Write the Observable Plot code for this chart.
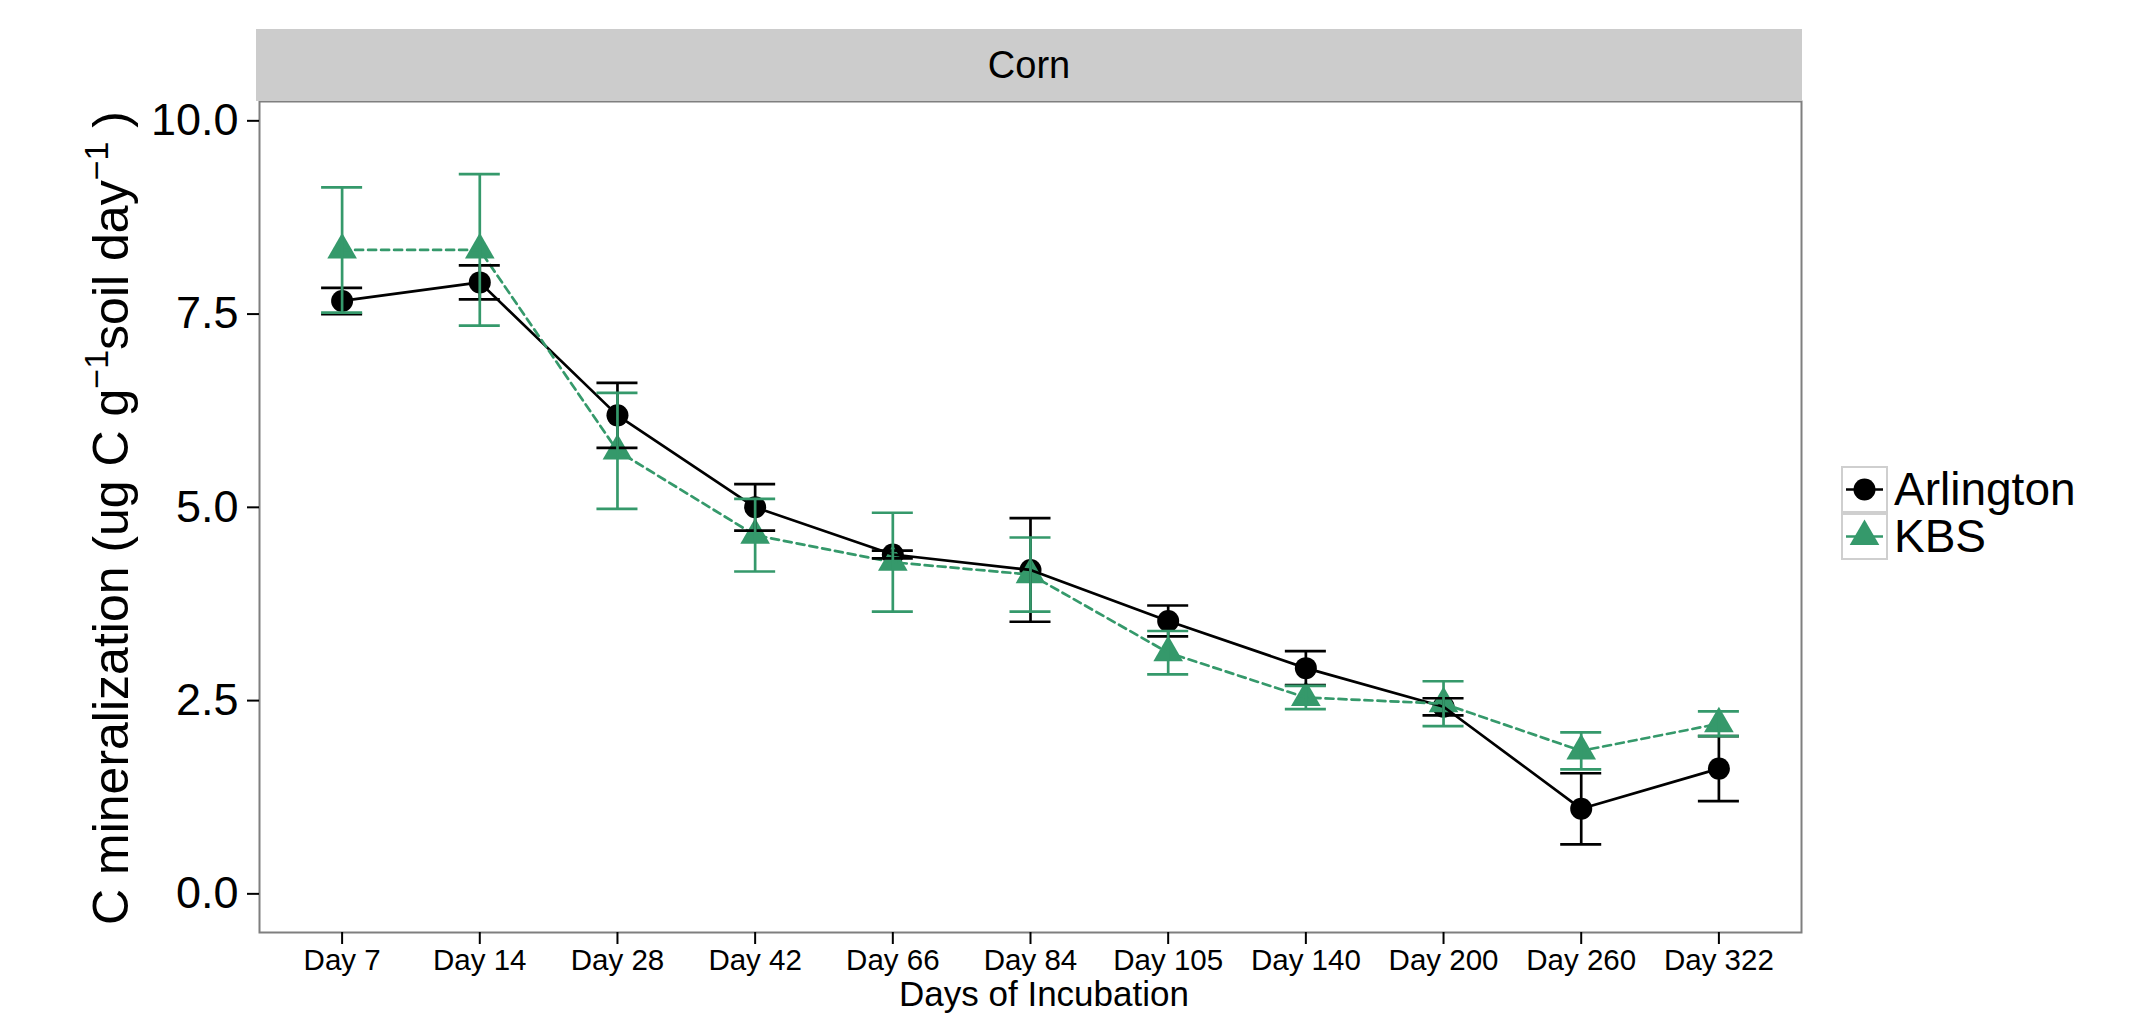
<!DOCTYPE html>
<html>
<head>
<meta charset="utf-8">
<script src="https://cdn.jsdelivr.net/npm/d3@7"></script>
<script src="https://cdn.jsdelivr.net/npm/@observablehq/plot@0.6"></script>
<style>
  html, body { margin: 0; padding: 0; background: #ffffff; }
  #wrap { position: relative; width: 2146px; height: 1015px; overflow: hidden;
          font-family: "Liberation Sans", Arial, Helvetica, sans-serif; color: #000; }
  #wrap > svg { position: absolute; left: 0; top: 0; }
  #strip { position: absolute; left: 256px; top: 29px; width: 1546px; height: 72px;
           background: #cccccc; display: flex; align-items: center; justify-content: center;
           font-size: 38px; color: #000; }
  #legend { position: absolute; left: 1841px; top: 466px; }
  .row { display: flex; align-items: center; height: 47px; }
  .row svg { display: block; }
  .row span { font-size: 46px; line-height: 47px; margin-left: 6px; }
</style>
</head>
<body>
<div id="wrap">
  <div id="strip"></div>
  <div id="legend"></div>
</div>
<script>
// ---- data ----
const days = ["Day 7", "Day 14", "Day 28", "Day 42", "Day 66", "Day 84", "Day 105", "Day 140", "Day 200", "Day 260", "Day 322"];
const sites = ["Arlington", "KBS"];
const arlingtonMean = [7.67, 7.91, 6.19, 5.00, 4.39, 4.19, 3.53, 2.92, 2.42, 1.10, 1.62];
const arlingtonErr  = [0.17, 0.22, 0.42, 0.30, 0.05, 0.67, 0.20, 0.22, 0.11, 0.46, 0.42];
const kbsMean = [8.33, 8.33, 5.73, 4.64, 4.29, 4.13, 3.12, 2.54, 2.46, 1.85, 2.20];
const kbsErr  = [0.81, 0.98, 0.75, 0.47, 0.64, 0.48, 0.28, 0.15, 0.29, 0.24, 0.16];
const yTicks = [0, 2.5, 5, 7.5, 10];
const panelTitle = "Corn";
const xTitle = "Days of Incubation";

// ---- styles ----
const siteColors = ["#000000", "#35996B"];
const font = "'Liberation Sans', Arial, Helvetica, sans-serif";

const rows = (site, mean, err) => days.map((d, i) => ({
  day: d, site, value: mean[i], lo: mean[i] - err[i], hi: mean[i] + err[i]
}));
const arl = rows(sites[0], arlingtonMean, arlingtonErr);
const kbs = rows(sites[1], kbsMean, kbsErr);

const lw = 2.7;
const errMarks = (data, color) => [
  Plot.ruleX(data, {x: "day", y1: "lo", y2: "hi", stroke: color, strokeWidth: lw}),
  Plot.tickY(data, {x: "day", y: "lo", stroke: color, strokeWidth: lw}),
  Plot.tickY(data, {x: "day", y: "hi", stroke: color, strokeWidth: lw})
];

const chart = Plot.plot({
  width: 2146,
  height: 1015,
  marginLeft: 259,
  marginRight: 345,
  marginTop: 101,
  marginBottom: 83,
  style: {fontFamily: font, color: "black", background: "transparent", overflow: "visible"},
  x: {type: "band", domain: days, paddingInner: 0.702, paddingOuter: 0.451, align: 0.5, round: false},
  y: {domain: [-0.5, 10.25]},
  marks: [
    Plot.dot(arl, {x: "day", y: "value", r: 11, fill: siteColors[0], symbol: "circle"}),
    Plot.dot(kbs, {x: "day", y: "value", r: 11, fill: siteColors[1], symbol: "triangle"}),
    Plot.line(arl, {x: "day", y: "value", stroke: siteColors[0], strokeWidth: lw}),
    Plot.line(kbs, {x: "day", y: "value", stroke: siteColors[1], strokeWidth: lw, strokeDasharray: "8,5"}),
    ...errMarks(arl, siteColors[0]),
    ...errMarks(kbs, siteColors[1]),
    Plot.frame({stroke: "#7f7f7f", strokeWidth: 2}),
    Plot.axisY({ticks: yTicks, tickFormat: d3.format(".1f"), fontSize: 45, tickSize: 12, tickPadding: 9, strokeWidth: 2, label: null}),
    Plot.axisX({fontSize: 29.5, tickSize: 12, tickPadding: 5, strokeWidth: 2, label: null})
  ]
});

const wrap = document.getElementById("wrap");
wrap.insertBefore(chart, wrap.firstChild);

// axis titles
const svg = d3.select(chart);
const yt = svg.append("text")
  .attr("transform", "translate(128,518) rotate(-90)")
  .attr("text-anchor", "middle")
  .attr("font-size", 50)
  .attr("font-family", font)
  .attr("fill", "black");
yt.append("tspan").text("C mineralization (ug C g");
yt.append("tspan").attr("dy", -20).attr("font-size", 34).text("\u22121");
yt.append("tspan").attr("dy", 20).text("soil day");
yt.append("tspan").attr("dy", -20).attr("font-size", 34).text("\u22121");
yt.append("tspan").attr("dy", 20).text(" )");

svg.append("text")
  .attr("x", 1044).attr("y", 1006)
  .attr("text-anchor", "middle")
  .attr("font-size", 35)
  .attr("font-family", font)
  .attr("fill", "black")
  .text(xTitle);

// facet strip
document.getElementById("strip").textContent = panelTitle;

// legend
const legend = d3.select("#legend");
sites.forEach((s, i) => {
  const row = legend.append("div").attr("class", "row");
  const k = row.append("svg").attr("width", 47).attr("height", 47);
  k.append("rect").attr("x", 1).attr("y", 1).attr("width", 45).attr("height", 45)
    .attr("fill", "white").attr("stroke", "#cfcfcf").attr("stroke-width", 2);
  k.append("line").attr("x1", 5).attr("x2", 42).attr("y1", 23.5).attr("y2", 23.5)
    .attr("stroke", siteColors[i]).attr("stroke-width", lw);
  k.append("path").attr("transform", "translate(23.5,23.5)")
    .attr("d", d3.symbol(i === 0 ? d3.symbolCircle : d3.symbolTriangle, Math.PI * 11 * 11)())
    .attr("fill", siteColors[i]);
  row.append("span").text(s);
});
</script>
</body>
</html>
